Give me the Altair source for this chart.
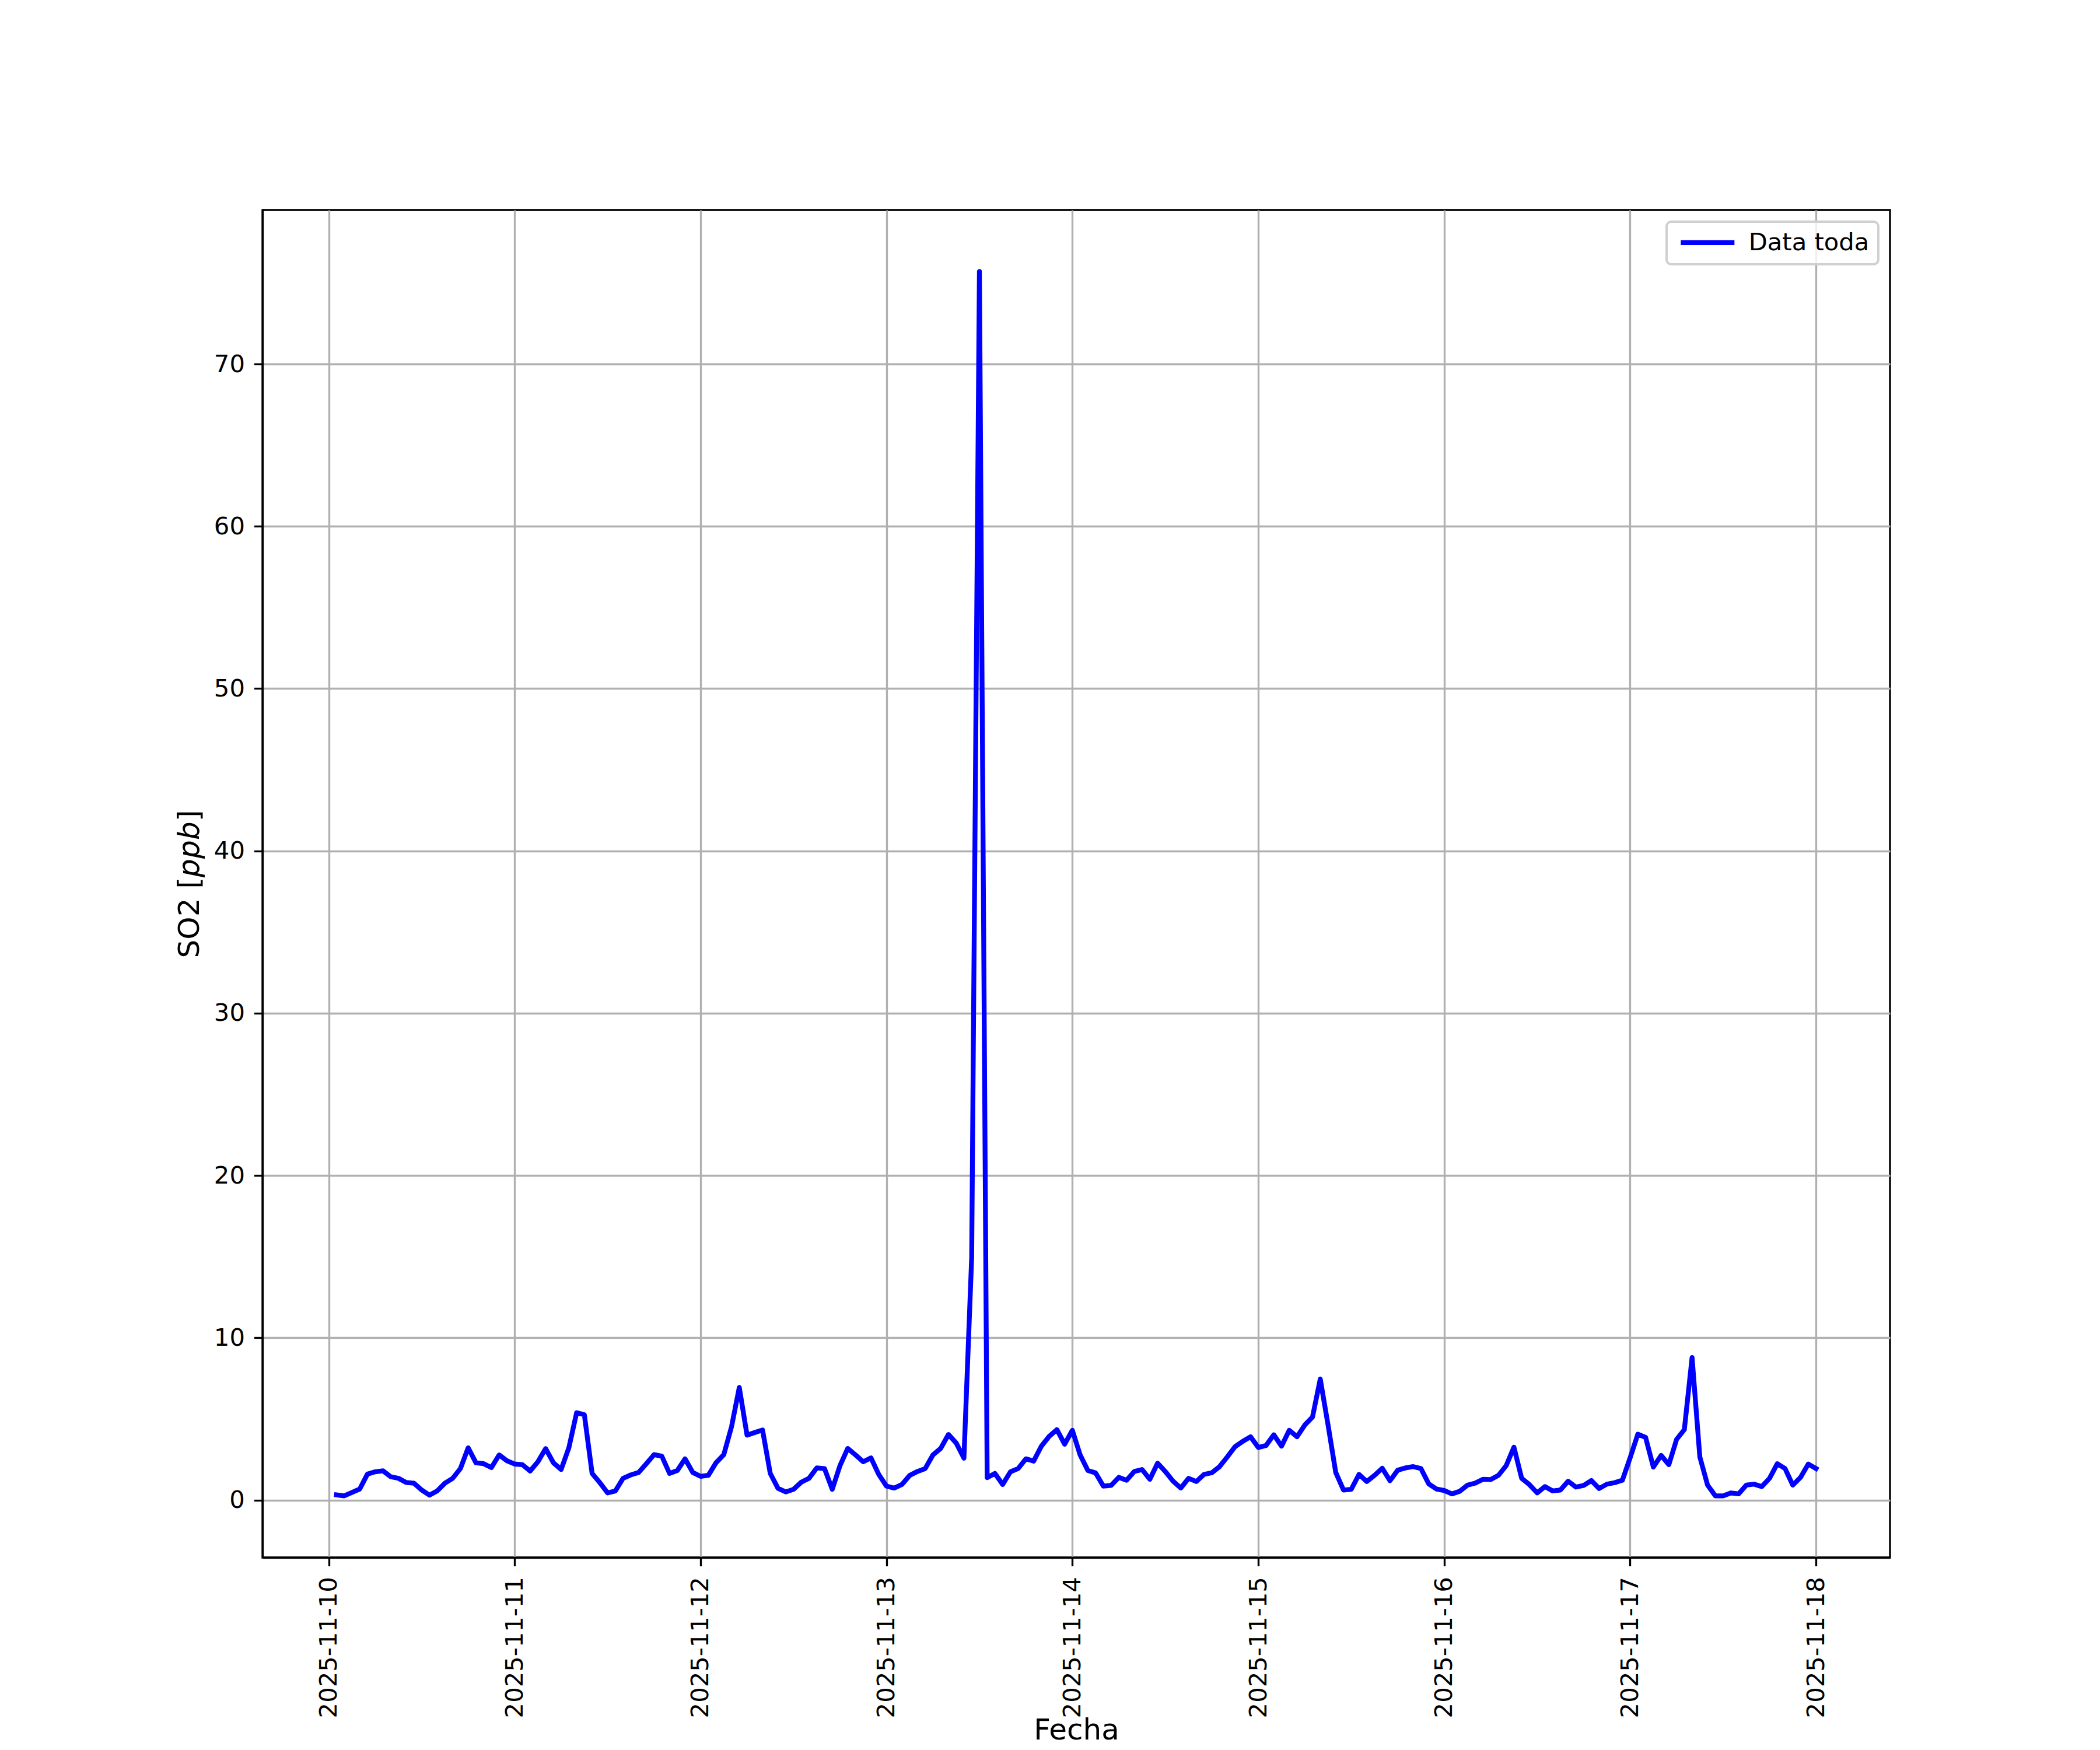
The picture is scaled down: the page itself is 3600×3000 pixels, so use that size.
import altair as alt
import pandas as pd

# ---- data (hourly SO2 readings) ----
start_time = "2025-11-10T01:00:00Z"
so2_values = [
    0.32, 0.26, 0.47, 0.68, 1.60, 1.74, 1.80, 1.44, 1.34, 1.08, 1.04, 0.62,
    0.30, 0.56, 1.04, 1.34, 1.94, 3.22, 2.30, 2.24, 2.00, 2.78, 2.42, 2.22,
    2.18, 1.79, 2.36, 3.17, 2.30, 1.88, 3.22, 5.38, 5.26, 1.64, 1.07, 0.44,
    0.56, 1.34, 1.55, 1.70, 2.24, 2.80, 2.70, 1.64, 1.82, 2.54, 1.70, 1.46,
    1.52, 2.30, 2.80, 4.52, 6.94, 4.00, 4.16, 4.32, 1.64, 0.72, 0.50, 0.66,
    1.10, 1.34, 1.98, 1.94, 0.66, 2.12, 3.18, 2.78, 2.36, 2.60, 1.58, 0.86,
    0.74, 0.96, 1.52, 1.76, 1.94, 2.78, 3.18, 4.04, 3.52, 2.58, 14.95, 75.70,
    1.38, 1.64, 0.96, 1.74, 1.94, 2.54, 2.40, 3.32, 3.92, 4.34, 3.44, 4.30,
    2.78, 1.82, 1.67, 0.86, 0.90, 1.40, 1.22, 1.76, 1.88, 1.28, 2.27, 1.76,
    1.16, 0.74, 1.34, 1.14, 1.58, 1.68, 2.06, 2.66, 3.29, 3.62, 3.90, 3.24,
    3.36, 4.02, 3.32, 4.30, 3.90, 4.62, 5.12, 7.46, 4.64, 1.70, 0.62, 0.66,
    1.58, 1.14, 1.52, 1.96, 1.19, 1.84, 1.98, 2.06, 1.94, 1.00, 0.68, 0.59,
    0.38, 0.54, 0.92, 1.04, 1.28, 1.26, 1.52, 2.12, 3.26, 1.34, 0.95, 0.44,
    0.83, 0.56, 0.62, 1.16, 0.80, 0.90, 1.20, 0.71, 0.98, 1.07, 1.22, 2.60,
    4.06, 3.86, 2.03, 2.75, 2.18, 3.74, 4.34, 8.78, 2.66, 0.92, 0.26, 0.26,
    0.44, 0.38, 0.92, 0.98, 0.83, 1.34, 2.24, 1.94, 0.92, 1.40, 2.22, 1.94,
]
series_name = "Data toda"
tick_days = [10, 11, 12, 13, 14, 15, 16, 17, 18]
y_ticks = [0, 10, 20, 30, 40, 50, 60, 70]
x_title = "Fecha"
y_title = "SO2 [\U0001D631\U0001D631\U0001D623]"

times = pd.date_range(start=start_time, periods=len(so2_values), freq="h")
df = pd.DataFrame({
    "fecha": [t.strftime("%Y-%m-%dT%H:%M:%SZ") for t in times],
    "so2": so2_values,
    "serie": [series_name] * len(so2_values),
})

FONT = "DejaVu Sans"
LW = 3.33
W, H = 2790, 2310

x_axis = alt.Axis(
    values=[alt.DateTime(year=2025, month=11, date=d, utc=True) for d in tick_days],
    labelExpr="utcFormat(datum.value, '%Y-%m-%d')",
    labelAngle=270, labelAlign="right", labelBaseline="middle",
    labelPadding=18, labelFontSize=41.7, labelFont=FONT, labelColor="black",
    labelFlush=False, labelOverlap=False, labelLimit=1000,
    tickSize=14.6, tickWidth=LW, tickColor="black",
    domainColor="black", domainWidth=LW,
    grid=True, gridColor="#b0b0b0", gridWidth=LW,
    title=x_title, titleFont=FONT, titleFontSize=50, titleFontWeight="normal",
    titleColor="black", titleX=W / 2, titleY=311, titleAlign="center",
    titleBaseline="alphabetic",
)
y_axis = alt.Axis(
    values=y_ticks,
    labelPadding=16, labelFontSize=41.7, labelFont=FONT, labelColor="black",
    labelFlush=False,
    tickSize=14.6, tickWidth=LW, tickColor="black",
    domainColor="black", domainWidth=LW,
    grid=True, gridColor="#b0b0b0", gridWidth=LW,
    title=y_title, titleFont=FONT, titleFontSize=50, titleFontWeight="normal",
    titleColor="black", titleAngle=270, titleX=-110, titleY=H / 2,
    titleAlign="center", titleBaseline="alphabetic",
)

chart = alt.Chart(df).mark_line(
    strokeWidth=8.3, strokeJoin="round", strokeCap="square"
).encode(
    x=alt.X("fecha:T", axis=x_axis, scale=alt.Scale(
        type="utc",
        domain=[alt.DateTime(year=2025, month=11, date=9, hours=15, minutes=27, utc=True),
                alt.DateTime(year=2025, month=11, date=18, hours=9, minutes=33, utc=True)],
        nice=False)),
    y=alt.Y("so2:Q", axis=y_axis, scale=alt.Scale(domain=[-3.54, 79.49], nice=False, zero=False)),
    color=alt.Color("serie:N", scale=alt.Scale(domain=[series_name], range=["#0000ff"]),
                    legend=alt.Legend(
                        orient="top-right", offset=20, title=None,
                        symbolType="M-1,0H7", symbolSize=529, symbolStrokeWidth=8.3,
                        labelFontSize=41.7, labelFont=FONT, labelColor="black",
                        labelOffset=84, labelLimit=1000, padding=15,
                        fillColor="rgba(255,255,255,0.8)", strokeColor="#d0d0d0",
                        cornerRadius=8,
                    )),
).properties(
    width=W, height=H,
    autosize=alt.AutoSizeParams(type="none"),
    padding={"left": 442, "top": 352, "right": 120, "bottom": 322},
    background="white",
).configure_view(
    stroke="black", strokeWidth=LW,
).configure_legend(
    strokeWidth=4,
)

chart.save("out.html", embed_options={"renderer": "svg", "actions": False})
